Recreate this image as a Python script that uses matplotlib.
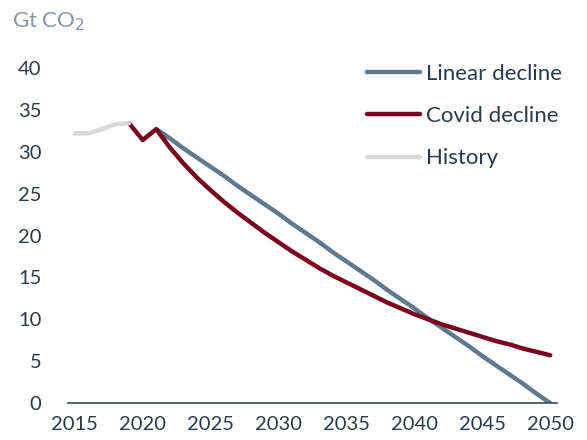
import matplotlib
matplotlib.use("Agg")
import matplotlib.pyplot as plt

hist_years = [2015, 2016, 2017, 2018, 2019]
hist_vals = [32.2, 32.2, 32.7, 33.3, 33.4]

covid_years = list(range(2019, 2051))
covid_vals = [33.4, 31.4, 32.7, 30.5, 28.6, 26.9, 25.4, 24.0, 22.7, 21.5,
              20.3, 19.2, 18.1, 17.1, 16.1, 15.2, 14.4, 13.6, 12.8, 12.0,
              11.3, 10.6, 10.0, 9.4, 8.9, 8.4, 7.9, 7.4, 7.0, 6.5, 6.1, 5.7]

lin_years = list(range(2021, 2051))
lin_vals = [32.7, 31.6, 30.4, 29.3, 28.2, 27.1, 25.9, 24.8, 23.7, 22.6,
            21.4, 20.3, 19.2, 18.0, 16.9, 15.8, 14.7, 13.5, 12.4, 11.3,
            10.1, 9.0, 7.9, 6.8, 5.6, 4.5, 3.4, 2.3, 1.1, 0.0]

yticks = [0, 5, 10, 15, 20, 25, 30, 35, 40]
xticks = [2015, 2020, 2025, 2030, 2035, 2040, 2045, 2050]

txt = '#2b3a4b'
plt.rcParams['font.family'] = ['Lato', 'DejaVu Sans']

fig = plt.figure(figsize=(5.87, 4.4), dpi=100)
ax = fig.add_axes([68/587, 37/440, 489/587, 335/440])

ax.plot(lin_years, lin_vals, color='#5f7a8f', lw=3.2, label='Linear decline', solid_capstyle='round')
ax.plot(covid_years, covid_vals, color='#7a0020', lw=3.2, label='Covid decline', solid_capstyle='round')
ax.plot(hist_years, hist_vals, color='#d9d9d9', lw=3.2, label='History', solid_capstyle='round')

ax.set_xlim(2014.5, 2050.5)
ax.set_ylim(0, 40)
ax.set_xticks(xticks)
ax.set_yticks(yticks)
for s in ['top', 'right', 'left']:
    ax.spines[s].set_visible(False)
ax.spines['bottom'].set_color('#3a4756')
ax.spines['bottom'].set_linewidth(1.2)
ax.tick_params(axis='both', length=0, labelsize=14.5, colors=txt)
ax.tick_params(axis='y', pad=19)
ax.tick_params(axis='x', pad=9)

fig.text(12/587, 1 - 22/440, 'Gt CO$_2$', color='#8a96a3', fontsize=16, va='center', ha='left')

leg = fig.legend(loc='upper left', bbox_to_anchor=(367/587, 1 - 64/440), frameon=False, fontsize=16,
                 handlelength=2.4, handletextpad=0.25, labelspacing=1.0, labelcolor=txt,
                 borderpad=0, borderaxespad=0)

fig.savefig('out.png', dpi=100)
